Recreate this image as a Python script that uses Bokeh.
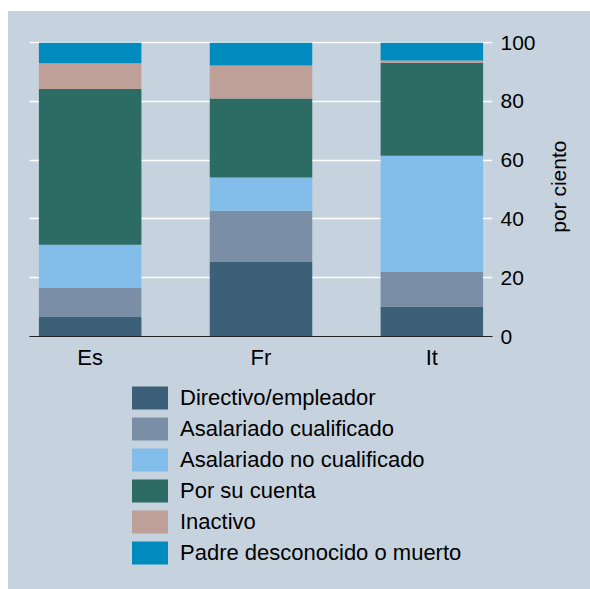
import math
from bokeh.plotting import figure
from bokeh.models import (ColumnDataSource, Range1d, FixedTicker, Legend, LegendItem, Spacer, Label)
from bokeh.layouts import column, row
from bokeh.embed import file_html
from bokeh.resources import INLINE

# ---- data ----
categories = ["Es", "Fr", "It"]
series = ["Directivo/empleador", "Asalariado cualificado", "Asalariado no cualificado",
          "Por su cuenta", "Inactivo", "Padre desconocido o muerto"]
directivo = [6.6, 25.5, 10.2]
asal_cual = [9.9, 17.3, 11.9]
asal_nocual = [14.7, 11.3, 39.4]
cuenta = [53.0, 26.9, 31.6]
inactivo = [8.8, 11.2, 0.8]
padre = [7.0, 7.8, 6.1]
y_ticks = [0, 20, 40, 60, 80, 100]
y_title = "por ciento"
colors = ["#3D6079", "#7A8FA5", "#82BEE9", "#2D6C65", "#BEA099", "#008BBE"]

keys = ["s0", "s1", "s2", "s3", "s4", "s5"]
xs = list(range(len(categories)))
src = ColumnDataSource(dict(x=xs, s0=directivo, s1=asal_cual, s2=asal_nocual,
                            s3=cuenta, s4=inactivo, s5=padre))

BG = "#C6D3DF"
FONT = "Liberation Sans"


def clear_fills(fig):
    fig.background_fill_alpha = 0
    fig.border_fill_alpha = 0
    fig.outline_line_color = None


# ---- main chart ----
p = figure(width=537, height=370, output_backend="svg", toolbar_location=None,
           x_range=Range1d(-0.355, 2.355), y_range=Range1d(0, 100.4),
           y_axis_location="right",
           min_border_left=21, min_border_right=53, min_border_top=30, min_border_bottom=45)
clear_fills(p)

rs = p.vbar_stack(keys, x="x", width=0.6, source=src, color=colors, line_color=None)

p.xgrid.grid_line_color = None
p.ygrid.grid_line_color = "white"
p.ygrid.grid_line_width = 1.7
p.ygrid.ticker = FixedTicker(ticks=y_ticks)

xa = p.xaxis[0]
xa.ticker = FixedTicker(ticks=xs)
xa.major_label_overrides = {i: c for i, c in enumerate(categories)}
xa.major_tick_line_color = None
xa.major_tick_out = 0
xa.major_tick_in = 0
xa.minor_tick_line_color = None
xa.axis_line_color = "#222222"
xa.axis_line_width = 1
xa.major_label_text_font = FONT
xa.major_label_text_font_size = "22px"
xa.major_label_text_color = "black"
xa.major_label_standoff = 8

ya = p.yaxis[0]
ya.ticker = FixedTicker(ticks=y_ticks)
ya.axis_line_color = None
ya.major_tick_line_color = None
ya.major_tick_out = 0
ya.major_tick_in = 0
ya.minor_tick_line_color = None
ya.major_label_text_font = FONT
ya.major_label_text_font_size = "21px"
ya.major_label_text_color = "black"
ya.major_label_standoff = 8

# ---- y-axis title strip (reads bottom to top) ----
pr = figure(width=45, height=370, output_backend="svg", toolbar_location=None,
            x_axis_type=None, y_axis_type=None,
            x_range=Range1d(0, 45), y_range=Range1d(0, 100.4),
            min_border_left=0, min_border_right=0, min_border_top=30, min_border_bottom=45)
clear_fills(pr)
pr.grid.visible = False
pr.add_layout(Label(x=13, y=51, text=y_title, angle=math.pi / 2,
                    text_align="center", text_baseline="middle",
                    text_font=FONT, text_font_size="21px", text_color="black"))

# ---- legend panel ----
p2 = figure(width=582, height=208, output_backend="svg", toolbar_location=None,
            x_axis_type=None, y_axis_type=None,
            x_range=Range1d(0, 1), y_range=Range1d(0, 1),
            min_border_left=21, min_border_right=98, min_border_top=0, min_border_bottom=0)
clear_fills(p2)
p2.grid.visible = False

items = []
for s, c in zip(series, colors):
    r = p2.vbar(x=[float("nan")], top=[float("nan")], width=0.5, fill_color=c, line_color=None)
    items.append(LegendItem(label=s, renderers=[r]))

legend = Legend(items=items, location=(98, 22), orientation="vertical",
                glyph_width=45, glyph_height=29, label_height=24, label_standoff=8,
                spacing=2, padding=0, margin=0,
                label_text_font=FONT, label_text_font_size="22px", label_text_color="black",
                background_fill_alpha=0, border_line_color=None)
p2.add_layout(legend, "center")

panel = column(row(p, pr), p2, styles={"background-color": BG})
layout = column(Spacer(width=590, height=11),
                row(Spacer(width=8, height=578), panel))
open("out.html", "w").write(file_html(layout, INLINE))
